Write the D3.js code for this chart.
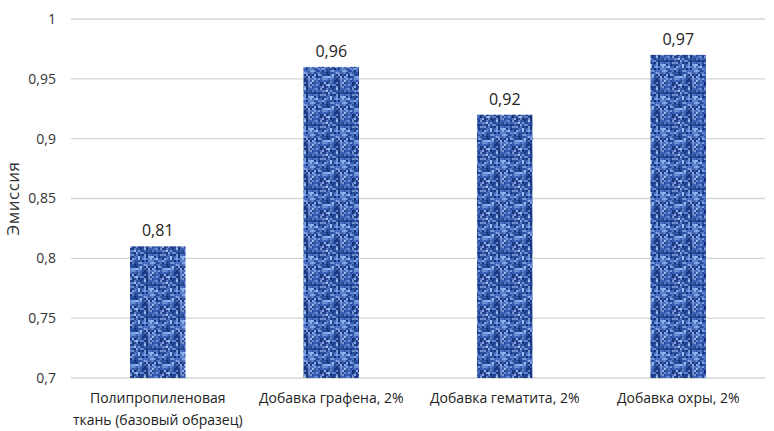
<!DOCTYPE html>
<html lang="ru">
<head>
    <meta charset="UTF-8">
    <title>Эмиссия</title>
    <script src="https://d3js.org/d3.v7.min.js"></script>
    <style>
        body { margin: 0; background: #fff; }
        text { font-family: "Open Sans", "Noto Sans", sans-serif; fill: #222; }
        .tick text { font-size: 14px; fill: #333; }
        .grid line { stroke: #d4d4d4; stroke-width: 1.3; }
        .value { font-size: 16px; text-anchor: middle; }
        .cat { font-size: 14px; text-anchor: middle; }
    </style>
</head>
<body>
<script>
    // данные
    const categories = [
        ["Полипропиленовая", "ткань (базовый образец)"],
        ["Добавка графена, 2%"],
        ["Добавка гематита, 2%"],
        ["Добавка охры, 2%"]
    ];
    const values = [0.81, 0.96, 0.92, 0.97];
    const yTicks = [0.7, 0.75, 0.8, 0.85, 0.9, 0.95, 1];
    const yTitle = "Эмиссия";

    const width = 774, height = 431;
    const margin = {top: 19, right: 9, bottom: 53, left: 71};
    const fmt = v => String(v).replace(".", ",");

    const svg = d3.select("body").append("svg")
        .attr("width", width)
        .attr("height", height);

    // текстура "ткань" для столбцов
    const N = 16, cell = 2;
    const pat = svg.append("defs").append("pattern")
        .attr("id", "weave")
        .attr("patternUnits", "userSpaceOnUse")
        .attr("width", N * cell).attr("height", N * cell);
    pat.append("rect").attr("width", N * cell).attr("height", N * cell).attr("fill", "#29499c");
    const shades = ["#152e76", "#1f3d8a", "#2f55aa", "#4872c6", "#6d95dc", "#a0bff0"];
    function hash(a, b) {
        let h = (a * 374761393 + b * 668265263) >>> 0;
        h = Math.imul(h ^ (h >>> 13), 1274126177) >>> 0;
        return (h ^ (h >>> 16)) >>> 0;
    }
    for (let i = 0; i < N; i++) {
        for (let j = 0; j < N; j++) {
            const horiz = (i + j) % 2 === 0;
            pat.append("rect")
                .attr("x", i * cell).attr("y", j * cell)
                .attr("width", cell)
                .attr("height", cell)
                .attr("fill", shades[hash(i, j) % shades.length]);
            pat.append("rect")
                .attr("x", i * cell + (horiz ? 0 : 0.6)).attr("y", j * cell + (horiz ? 0.6 : 0))
                .attr("width", horiz ? cell : 0.8)
                .attr("height", horiz ? 0.8 : cell)
                .attr("fill", shades[hash(j + 31, i + 17) % shades.length])
                .attr("opacity", 0.7);
        }
    }

    const x = d3.scaleBand()
        .domain(d3.range(categories.length))
        .range([margin.left, width - margin.right])
        .paddingInner(0.68)
        .paddingOuter(0.34);

    const y = d3.scaleLinear()
        .domain([0.7, 1])
        .range([height - margin.bottom, margin.top]);

    // сетка
    svg.append("g")
        .attr("class", "grid")
        .selectAll("line")
        .data(yTicks)
        .enter().append("line")
        .attr("x1", margin.left)
        .attr("x2", width - margin.right)
        .attr("y1", d => y(d))
        .attr("y2", d => y(d));

    // ось Y
    const yAxis = svg.append("g")
        .attr("transform", `translate(${margin.left},0)`)
        .call(d3.axisLeft(y).tickValues(yTicks).tickFormat(fmt).tickSize(0).tickPadding(15));
    yAxis.select(".domain").remove();

    svg.append("text")
        .attr("transform", `translate(19,${(margin.top + height - margin.bottom) / 2}) rotate(-90)`)
        .attr("text-anchor", "middle")
        .style("font-size", "17px")
        .style("letter-spacing", "0.5px")
        .style("fill", "#333")
        .text(yTitle);

    // столбцы
    svg.append("g")
        .selectAll("rect")
        .data(values)
        .enter().append("rect")
        .attr("x", (d, i) => x(i))
        .attr("width", x.bandwidth())
        .attr("y", d => y(d))
        .attr("height", d => y(0.7) - y(d))
        .attr("fill", "url(#weave)");

    // подписи значений
    svg.append("g")
        .selectAll("text")
        .data(values)
        .enter().append("text")
        .attr("class", "value")
        .attr("x", (d, i) => x(i) + x.bandwidth() / 2)
        .attr("y", d => y(d) - 10)
        .text(fmt);

    // подписи категорий
    const cat = svg.append("g")
        .selectAll("text")
        .data(categories)
        .enter().append("text")
        .attr("class", "cat")
        .attr("x", (d, i) => x(i) + x.bandwidth() / 2)
        .attr("y", height - margin.bottom + 25);
    cat.selectAll("tspan")
        .data(d => d)
        .enter().append("tspan")
        .attr("x", function() { return this.parentNode.getAttribute("x"); })
        .attr("dy", (d, i) => i === 0 ? 0 : 22)
        .text(d => d);
</script>
</body>
</html>
